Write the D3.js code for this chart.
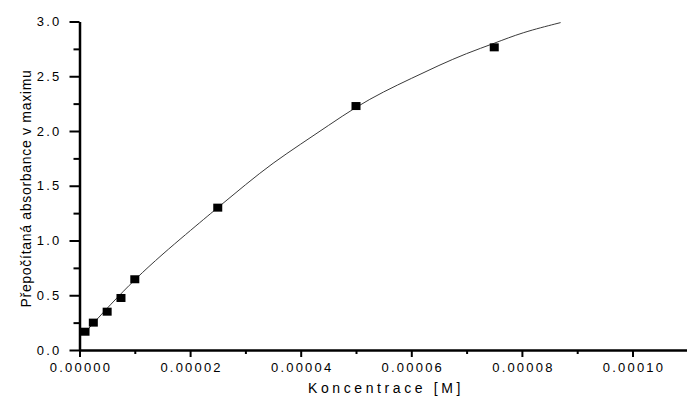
<!DOCTYPE html>
<html>
<head>
<meta charset="utf-8">
<script src="https://cdn.jsdelivr.net/npm/d3@7"></script>
<style>
  html, body { margin: 0; padding: 0; background: #fff; }
  svg { display: block; }
  text { font-family: "Liberation Sans", Arial, sans-serif; fill: #000; }
</style>
</head>
<body>
<svg id="chart" width="687" height="403"></svg>
<script>
// Measured points: concentration [M] and recalculated absorbance
const concentrations = [0.000001, 0.0000025, 0.000005, 0.0000075, 0.00001, 0.000025, 0.00005, 0.000075];
const absorbances    = [0.167, 0.25, 0.35, 0.475, 0.646, 1.30, 2.228, 2.764];

// Fitted curve
const fitX = [0.000001, 0.00001, 0.00002, 0.000025, 0.00003, 0.000035, 0.00004, 0.000045, 0.00005,
              0.000055, 0.00006, 0.000065, 0.00007, 0.000075, 0.00008, 0.000087];
const fitY = [0.16, 0.66, 1.09, 1.30, 1.51, 1.71, 1.88, 2.05, 2.22,
              2.36, 2.48, 2.60, 2.71, 2.80, 2.90, 2.99];

// Ticks
const xMajorTicks = [0, 0.00002, 0.00004, 0.00006, 0.00008, 0.0001];
const xMinorTicks = [0.00001, 0.00003, 0.00005, 0.00007, 0.00009];
const yMajorTicks = [0, 0.5, 1.0, 1.5, 2.0, 2.5, 3.0];
const yMinorTicks = [0.25, 0.75, 1.25, 1.75, 2.25, 2.75];

const xTitle = "Koncentrace [M]";
const yTitle = "Přepočítaná absorbance v maximu";

const svg = d3.select("#chart");

const x = d3.scaleLinear().domain([0, 0.00011]).range([79.5, 687.8]);
const y = d3.scaleLinear().domain([0, 3]).range([350, 21.5]);

// Fitted curve
const line = d3.line()
  .x((d, i) => x(fitX[i]))
  .y((d, i) => y(fitY[i]))
  .curve(d3.curveBasis);
svg.append("path")
  .datum(fitY)
  .attr("d", line)
  .attr("fill", "none")
  .attr("stroke", "#3a3a3a")
  .attr("stroke-width", 1);

// Minor ticks
const xMinor = svg.append("g").attr("transform", `translate(0,${y(0)})`)
  .call(d3.axisBottom(x).tickValues(xMinorTicks).tickSize(4).tickSizeOuter(0).tickFormat(""));
const yMinor = svg.append("g").attr("transform", `translate(${x(0)},0)`)
  .call(d3.axisLeft(y).tickValues(yMinorTicks).tickSize(6).tickSizeOuter(0).tickFormat(""));
[xMinor, yMinor].forEach(g => {
  g.select(".domain").remove();
  g.selectAll(".tick line").attr("stroke", "#000").attr("stroke-width", 2);
});

// Major axes
const xAxis = svg.append("g").attr("transform", `translate(0,${y(0)})`)
  .call(d3.axisBottom(x).tickValues(xMajorTicks).tickSize(7).tickSizeOuter(0).tickPadding(6)
    .tickFormat(d3.format(".5f")));
const yAxis = svg.append("g").attr("transform", `translate(${x(0)},0)`)
  .call(d3.axisLeft(y).tickValues(yMajorTicks).tickSize(10).tickSizeOuter(0).tickPadding(8)
    .tickFormat(d3.format(".1f")));

[xAxis, yAxis].forEach(g => {
  g.select(".domain").attr("stroke", "#000").attr("stroke-width", 2.5);
  g.selectAll(".tick line").attr("stroke", "#000").attr("stroke-width", 2);
  g.selectAll(".tick text")
    .attr("fill", "#000")
    .style("font-size", "13px")
    .style("letter-spacing", "2.2px")
    .style("font-family", "'Liberation Sans', Arial, sans-serif");
});
xAxis.selectAll(".tick text").attr("dx", "1px");

// Data markers
svg.append("g").selectAll("rect")
  .data(concentrations)
  .join("rect")
  .attr("x", (d) => x(d) - 4.5)
  .attr("y", (d, i) => y(absorbances[i]) - 4)
  .attr("width", 9)
  .attr("height", 8)
  .attr("fill", "#000");

// Titles
svg.append("text")
  .attr("x", 386)
  .attr("y", 393)
  .attr("text-anchor", "middle")
  .style("font-size", "14px")
  .style("letter-spacing", "3.6px")
  .text(xTitle);

svg.append("text")
  .attr("transform", "translate(31,188.5) rotate(-90)")
  .attr("text-anchor", "middle")
  .style("font-size", "14px")
  .style("letter-spacing", "0.7px")
  .text(yTitle);
</script>
</body>
</html>
